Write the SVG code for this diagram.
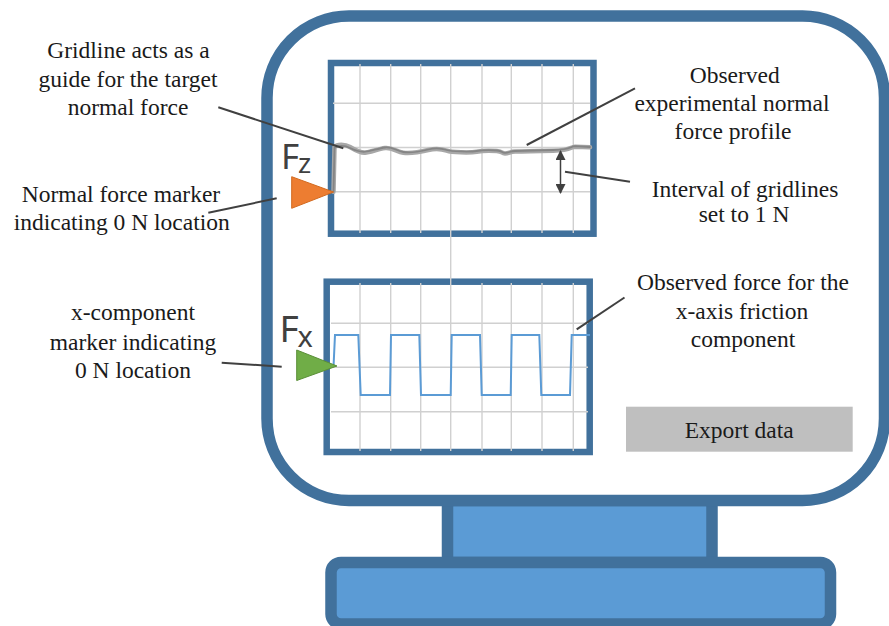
<svg xmlns="http://www.w3.org/2000/svg" width="889" height="626" viewBox="0 0 889 626">
<style>
.lbl{font-family:'Liberation Serif','Tinos','Times New Roman','DejaVu Serif','Noto Serif',serif;font-size:23.5px;fill:#1a1a1a;text-anchor:middle}
.sym{font-family:'Noto Sans','Open Sans',sans-serif;fill:#404040}
.hw{stroke:#41719C;stroke-width:11.5}
.frame{fill:#fff;stroke:#41719C;stroke-width:6.5}
.grid{stroke:#d0d0d0;stroke-width:1.4;fill:none}
.lead{stroke:#404040;stroke-width:2;fill:none}
</style>
<defs>
<marker id="ah" viewBox="0 0 10 10" refX="9" refY="5" markerWidth="10" markerHeight="10" markerUnits="userSpaceOnUse" orient="auto-start-reverse">
<path d="M0,0 L10,5 L0,10 Z" fill="#404040"/>
</marker>
</defs>

<g id="monitor">
<rect x="447.5" y="500.5" width="264.5" height="62" rx="6" fill="#5B9BD5" class="hw"/>
<rect x="331" y="562.5" width="499.5" height="61.5" rx="10" fill="#5B9BD5" class="hw"/>
<rect x="267" y="16" width="617.5" height="484.5" rx="82" fill="#fff" class="hw"/>
</g>

<g id="graph-fz">
<rect x="331" y="63" width="262.5" height="170.7" class="frame"/>
<g class="grid">
<path d="M360,64V233M390.7,64V233M420.7,64V233M482,64V233M511.3,64V233M542,64V233M573.3,64V233"/>
<path d="M333,103.3H590M333,147.5H590M333,191.7H590"/>
</g>
</g>

<g id="graph-fx">
<rect x="326.7" y="281.7" width="263" height="170.3" class="frame"/>
<g class="grid">
<path d="M360,283V451M390.7,283V451M420.7,283V451M482,283V451M511.3,283V451M542,283V451M573.3,283V451"/>
<path d="M331,323.3H588M331,367.3H588M331,411.7H588"/>
</g>
</g>
<path class="grid" d="M450.7,64V451"/>

<g id="trace-fz" fill="none" stroke-linejoin="round" stroke-linecap="round">
<path d="M333.5,191.7L334.5,147 C337,144 345,144 350,147 S360,153 365,152.7 S378,149 385,148 S397,152 403.3,152.7 S420,152 428.3,150 S442,149 446.7,150.7 S470,153 476.7,151.7 S490,150.5 496.7,151 S501,153.5 505,153.5 S510,151.8 515,151.6 S535,151 553.3,150.7 S570,147 575,146.7 L590,147.3" stroke="#a8a8a8" stroke-width="4.5"/>
<path d="M333.5,191.7L334.5,148 C338,145 345,145.5 350,148 S360,152 365,151.7 S378,148.5 385,147.5 S397,151 403.3,152 S420,151.5 428.3,149.5 S442,148.5 446.7,150 S470,152 476.7,151 S490,150 496.7,150.5 S501,152.8 505,152.8 S510,151.2 515,151 S535,150.5 553.3,150 S570,146.5 575,146.2 L590,147" stroke="#858585" stroke-width="1.8"/>
</g>

<g id="trace-fx">
<path d="M333.5,367 L335,335 H358.3 L360.7,395 H390 L391,335 H419.3 L421,395 H450.7 L451.7,335 H480 L481.7,395 H510.7 L511.7,335 H539.3 L541.3,395 H570 L571.7,335 H590" fill="none" stroke="#5B9BD5" stroke-width="2"/>
</g>

<g id="marker-fz">
<polygon points="291.7,176.7 291.7,208.3 333.5,192" fill="#ED7D31" stroke="#d2691e" stroke-width="1"/>
<text class="sym" x="281" y="168.5" font-size="35">F</text>
<text class="sym" x="298" y="172.7" font-size="28">z</text>
</g>

<g id="marker-fx">
<polygon points="296.7,350 296.7,380.5 337,366" fill="#70AD47" stroke="#5a8f38" stroke-width="1"/>
<text class="sym" x="279.5" y="341.7" font-size="37">F</text>
<text class="sym" x="297.5" y="347.3" font-size="29">x</text>
</g>

<g id="export-button">
<rect x="626" y="406.7" width="226.7" height="45" fill="#BFBFBF"/>
<text class="lbl" x="739.2" y="438.3">Export data</text>
</g>

<g id="label-gridline">
<text class="lbl" x="128.5" y="58">Gridline acts as a</text>
<text class="lbl" x="128" y="86.7">guide for the target</text>
<text class="lbl" x="128" y="115">normal force</text>
</g>
<g id="label-normal-marker">
<text class="lbl" x="121" y="201.7">Normal force marker</text>
<text class="lbl" x="121.7" y="230">indicating 0 N location</text>
</g>
<g id="label-x-marker">
<text class="lbl" x="133" y="320">x-component</text>
<text class="lbl" x="133" y="349.5">marker indicating</text>
<text class="lbl" x="133" y="378.3">0 N location</text>
</g>
<g id="label-normal-profile">
<text class="lbl" x="734.7" y="83.3">Observed</text>
<text class="lbl" x="732" y="111.3">experimental normal</text>
<text class="lbl" x="733" y="138.5">force profile</text>
</g>
<g id="label-interval">
<text class="lbl" x="745" y="196.7">Interval of gridlines</text>
<text class="lbl" x="744" y="221.7">set to 1 N</text>
</g>
<g id="label-friction">
<text class="lbl" x="743" y="290">Observed force for the</text>
<text class="lbl" x="742" y="319.3">x-axis friction</text>
<text class="lbl" x="743" y="346.7">component</text>
</g>

<g id="connectors">
<line class="lead" x1="218.3" y1="107.3" x2="343.3" y2="148.3"/>
<line class="lead" x1="208.3" y1="212.7" x2="276.7" y2="198.3"/>
<line class="lead" x1="221.7" y1="362.7" x2="281.7" y2="366.7"/>
<line class="lead" x1="635" y1="88.3" x2="526.7" y2="145"/>
<line class="lead" x1="630" y1="181.7" x2="565" y2="171.7"/>
<line class="lead" x1="624.5" y1="297.5" x2="576.7" y2="329.3"/>
<line x1="560.5" y1="151" x2="560.5" y2="193" stroke="#404040" stroke-width="1.5" marker-start="url(#ah)" marker-end="url(#ah)"/>
</g>
</svg>
